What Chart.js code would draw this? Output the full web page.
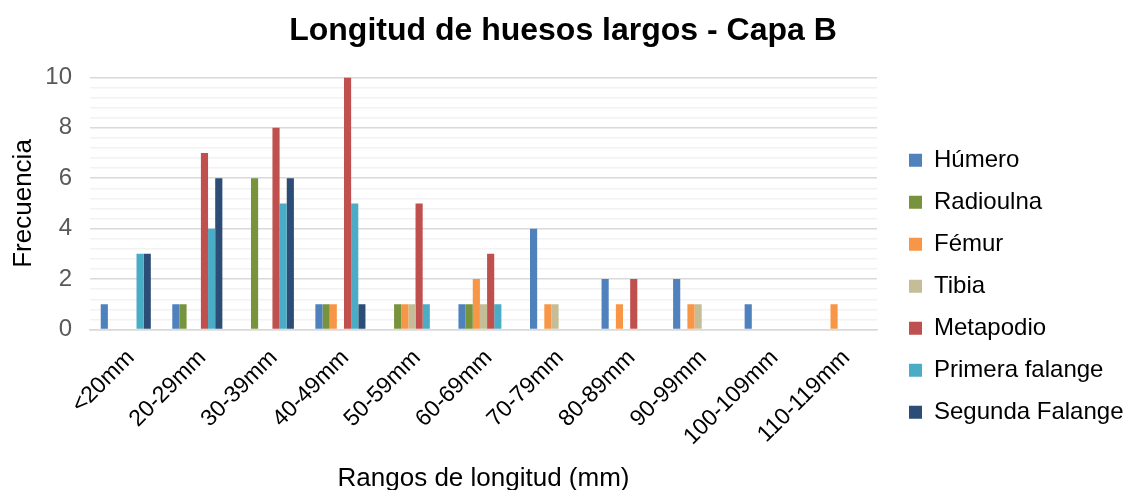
<!DOCTYPE html>
<html>
<head>
<meta charset="utf-8">
<script src="https://cdn.jsdelivr.net/npm/chart.js@4"></script>
<style>
  html, body { margin: 0; padding: 0; background: #fff; }
  #wrap { width: 1126px; height: 490px; }
</style>
</head>
<body>
<div id="wrap"><canvas id="boneChart" width="1126" height="490"></canvas></div>
<script>
const categories = ["<20mm", "20-29mm", "30-39mm", "40-49mm", "50-59mm", "60-69mm", "70-79mm", "80-89mm", "90-99mm", "100-109mm", "110-119mm"];

const humero         = [1, 1, 0, 1, 0, 1, 4, 2, 2, 1, 0];
const radioulna      = [0, 1, 6, 1, 1, 1, 0, 0, 0, 0, 0];
const femur          = [0, 0, 0, 1, 1, 2, 1, 1, 1, 0, 1];
const tibia          = [0, 0, 0, 0, 1, 1, 1, 0, 1, 0, 0];
const metapodio      = [0, 7, 8, 10, 5, 3, 0, 2, 0, 0, 0];
const primeraFalange = [3, 4, 5, 5, 1, 1, 0, 0, 0, 0, 0];
const segundaFalange = [3, 6, 6, 1, 0, 0, 0, 0, 0, 0, 0];

const seriesNames = ["Húmero", "Radioulna", "Fémur", "Tibia", "Metapodio", "Primera falange", "Segunda Falange"];
const seriesData = [humero, radioulna, femur, tibia, metapodio, primeraFalange, segundaFalange];
const seriesColors = ["#4f81bd", "#77933c", "#f79646", "#c4bd97", "#c0504d", "#4bacc6", "#2c4d75"];

const FONT = "'Liberation Sans', Arial, sans-serif";

function isMajor(v) {
  const r = Math.round(v);
  return Math.abs(v - r) < 1e-6 && r % 2 === 0;
}

// nudge the legend a little away from the plot
const legendShift = {
  id: "legendShift",
  afterLayout(chart) {
    if (!chart.legend) return;
    chart.legend.left += 14;
    chart.legend.right += 14;
  },
};

const ctx = document.getElementById("boneChart");

const boneChart = new Chart(ctx, {
  type: "bar",
  data: {
    labels: categories,
    datasets: seriesNames.map((name, i) => ({
      label: name,
      data: seriesData[i],
      backgroundColor: seriesColors[i],
      categoryPercentage: 0.7,
      barPercentage: 1.0,
    })),
  },
  options: {
    responsive: false,
    animation: false,
    layout: {
      padding: { left: -10, right: -10, top: 4, bottom: -4 },
    },
    plugins: {
      title: {
        display: true,
        text: "Longitud de huesos largos - Capa B",
        color: "#000",
        font: { family: FONT, size: 32, weight: "bold" },
        padding: { top: 8, bottom: 27 },
      },
      legend: {
        position: "right",
        // blank title just pushes the items down a bit
        title: {
          display: true,
          text: " ",
          padding: { top: 0, bottom: 60 },
        },
        labels: {
          color: "#000",
          boxWidth: 13,
          boxHeight: 13,
          padding: 18,
          font: { family: FONT, size: 24 },
        },
      },
      tooltip: { enabled: false },
    },
    scales: {
      x: {
        grid: { display: false },
        border: { color: "#d9d9d9", width: 1.5 },
        ticks: {
          color: "#000",
          minRotation: 45,
          maxRotation: 45,
          padding: 7,
          labelOffset: 5,
          font: { family: FONT, size: 23 },
        },
        title: {
          display: true,
          text: "Rangos de longitud (mm)",
          color: "#000",
          font: { family: FONT, size: 26 },
          padding: { top: 5, bottom: 0 },
        },
        afterFit: (scale) => {
          scale.paddingRight = 249;
        },
      },
      y: {
        min: 0,
        max: 10,
        border: { display: false },
        grid: {
          drawTicks: false,
          lineWidth: 1.5,
          color: (c) => (isMajor(c.tick.value) ? "#d9d9d9" : "#f2f2f2"),
        },
        ticks: {
          stepSize: 0.4,
          autoSkip: false,
          color: "#595959",
          padding: 18,
          font: { family: FONT, size: 24 },
          callback: (v) => (isMajor(v) ? String(Math.round(v)) : ""),
        },
        title: {
          display: true,
          text: "Frecuencia",
          color: "#000",
          font: { family: FONT, size: 26 },
          padding: { top: 18, bottom: 4 },
        },
        afterFit: (scale) => {
          scale.width = 100;
        },
      },
    },
  },
  plugins: [legendShift],
});
</script>
</body>
</html>
